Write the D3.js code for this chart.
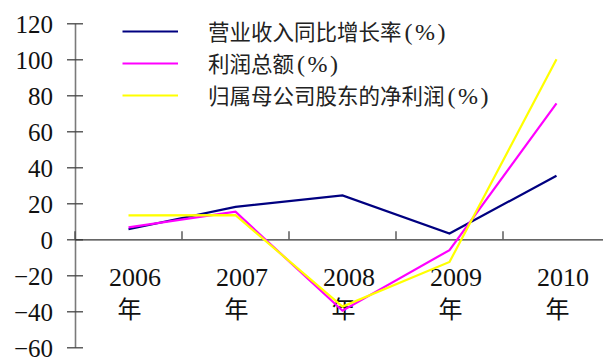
<!DOCTYPE html>
<html><head><meta charset="utf-8">
<script src="https://cdn.jsdelivr.net/npm/d3@7/dist/d3.min.js"></script>
<style>body{margin:0;background:#fff}svg{display:block}</style>
</head><body>
<svg id="c" width="603" height="359"></svg>
<script>
const categories = ["2006", "2007", "2008", "2009", "2010"];
const yearSuffix = "年";
const seriesNames = ["营业收入同比增长率", "利润总额", "归属母公司股东的净利润"];
const seriesUnit = "(%)";
const revenueGrowth = [5.6, 18.0, 24.4, 3.2, 35.3];
const totalProfit = [6.6, 15.3, -39.7, -6.0, 75.5];
const netProfit = [13.3, 13.4, -37.4, -12.6, 100.0];
const seriesColors = ["#000080", "#ff00ff", "#ffff00"];
const yTicks = [120, 100, 80, 60, 40, 20, 0, -20, -40, -60];

const svg = d3.select("#c");
const serif = "'Liberation Serif','Noto Sans CJK SC',serif";
const cjk = "'Noto Sans CJK SC','Liberation Serif',serif";

const x = d3.scaleBand().domain(categories).range([75, 610]);
const y = d3.scaleLinear().domain([-60, 120]).range([347.3, 23.3]);

// y axis
const yAxis = d3.axisLeft(y).tickValues(yTicks).tickSize(0).tickFormat("");
const yg = svg.append("g").attr("transform", "translate(75,0)").call(yAxis);
yg.select(".domain").attr("stroke", "#7a7a7a").attr("stroke-width", 1.6);
yg.selectAll(".tick").append("line").attr("x1", -8).attr("x2", 8)
  .attr("stroke", "#444").attr("stroke-width", 1.3);
yg.selectAll(".tick").append("text")
  .attr("x", -22).attr("y", 9).attr("text-anchor", "end")
  .attr("fill", "#111").attr("font-size", 25).attr("font-family", serif)
  .text(d => d < 0 ? "\u2212" + Math.abs(d) : d);

// x axis at zero
const xAxis = d3.axisBottom(x).tickSize(0).tickFormat("");
const xg = svg.append("g").attr("transform", `translate(0,${y(0)})`).call(xAxis);
xg.select(".domain").attr("stroke", "#333").attr("stroke-width", 1.3);
const bounds = categories.map(c => x(c));
xg.selectAll(".btick").data(bounds).enter().append("line")
  .attr("x1", d => d).attr("x2", d => d).attr("y1", -8).attr("y2", 0)
  .attr("stroke", "#444").attr("stroke-width", 1.3);

// category labels
const lab = svg.append("g");
categories.forEach(c => {
  const cx = x(c) + x.bandwidth() / 2;
  lab.append("text").attr("x", cx + 6.5).attr("y", 286).attr("text-anchor", "middle")
    .attr("font-size", 26).attr("font-family", serif).attr("fill", "#111").text(c);
  lab.append("text").attr("x", cx + 1).attr("y", 318).attr("text-anchor", "middle")
    .attr("font-size", 24).attr("font-family", cjk).attr("fill", "#111").text(yearSuffix);
});

// lines
const data = [revenueGrowth, totalProfit, netProfit];
const line = d3.line().x((d, i) => x(categories[i]) + x.bandwidth() / 2).y(d => y(d));
data.forEach((s, k) => {
  svg.append("path").datum(s).attr("d", line).attr("fill", "none")
    .attr("stroke", seriesColors[k]).attr("stroke-width", 2.2)
    .attr("stroke-linejoin", "miter");
});

// legend
const leg = svg.append("g");
seriesNames.forEach((n, k) => {
  const ly = 31.5 + k * 32;
  leg.append("line").attr("x1", 122.5).attr("x2", 178).attr("y1", ly).attr("y2", ly)
    .attr("stroke", seriesColors[k]).attr("stroke-width", 2.2);
  const t = leg.append("text").attr("x", 208).attr("y", ly + 8)
    .attr("font-size", 21.5).attr("font-family", cjk).attr("fill", "#222");
  t.append("tspan").text(n);
  t.append("tspan").attr("font-family", serif).attr("font-size", 24).attr("dx", 3)
    .attr("letter-spacing", 2.5).text(seriesUnit);
});
</script>
</body></html>
